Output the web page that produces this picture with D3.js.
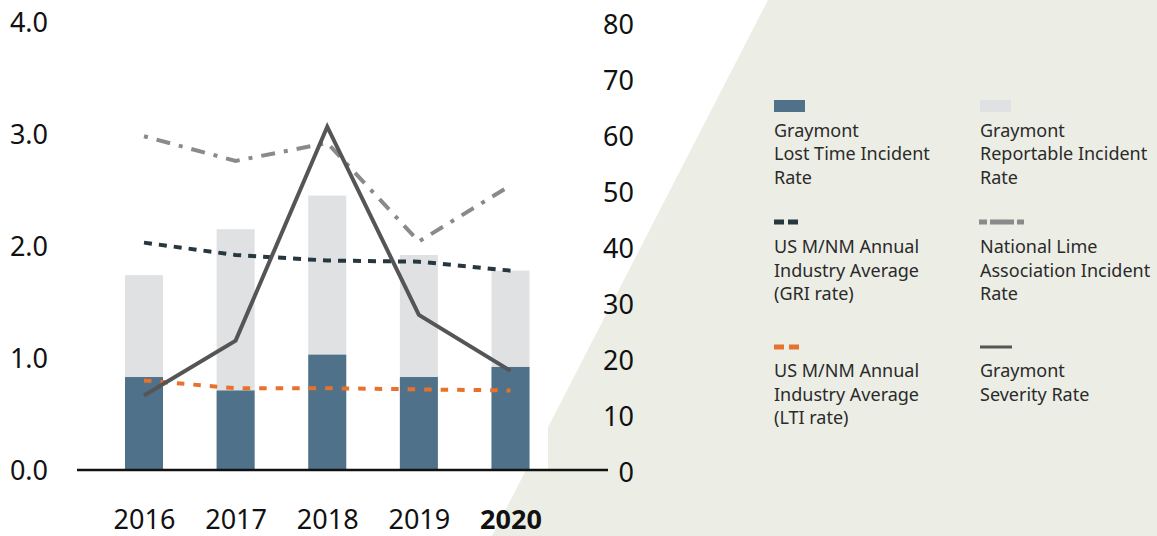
<!DOCTYPE html>
<html>
<head>
<meta charset="utf-8">
<script src="https://cdn.jsdelivr.net/npm/d3@7"></script>
<style>
body { margin: 0; background: #fff; }
svg { display: block; font-family: "Noto Sans", sans-serif; }
</style>
</head>
<body>
<svg id="chart" width="1157" height="536"></svg>
<script>
// values
var years = ["2016", "2017", "2018", "2019", "2020"];
var ltiRate = [0.83, 0.71, 1.03, 0.83, 0.92];          // Graymont Lost Time Incident Rate
var reportableRate = [1.74, 2.15, 2.45, 1.92, 1.78];   // Graymont Reportable Incident Rate
var griAverage = [2.03, 1.92, 1.87, 1.86, 1.78];       // US M/NM avg (GRI rate)
var ltiAverage = [0.80, 0.73, 0.73, 0.72, 0.71];       // US M/NM avg (LTI rate)
var nlaRate = [2.98, 2.76, 2.92, 2.04, 2.54];          // National Lime Association
var severityRate = [13.3, 23.1, 61.3, 27.7, 17.7];     // right axis
var leftTicks = [0, 1, 2, 3, 4];
var rightTicks = [0, 10, 20, 30, 40, 50, 60, 70, 80];
var legendLabels = [
    ["Graymont", "Lost Time Incident", "Rate"],
    ["Graymont", "Reportable Incident", "Rate"],
    ["US M/NM Annual", "Industry Average", "(GRI rate)"],
    ["National Lime", "Association Incident", "Rate"],
    ["US M/NM Annual", "Industry Average", "(LTI rate)"],
    ["Graymont", "Severity Rate"]
];

var svg = d3.select("#chart");
var W = 1157, H = 536;

// backdrop: angled panel, white plot area over it
svg.append("polygon")
    .attr("points", [[768, 0], [W, 0], [W, H], [492, H]].join(" "))
    .attr("fill", "#eceee5");
svg.append("rect")
    .attr("x", 0).attr("y", 0)
    .attr("width", 548).attr("height", 470)
    .attr("fill", "#fff");

var x = d3.scalePoint().domain(years).range([144, 510.5]);
var yL = d3.scaleLinear().domain([0, 4]).range([470, 22]);
var yR = d3.scaleLinear().domain([0, 80]).range([470, 22]);
var barW = 38;

var rows = years.map(function (y, i) {
    return {
        year: y, lti: ltiRate[i], rep: reportableRate[i], gri: griAverage[i],
        ltiAvg: ltiAverage[i], nla: nlaRate[i], sev: severityRate[i]
    };
});

// bars
svg.append("g").selectAll("rect").data(rows).enter().append("rect")
    .attr("x", function (d) { return x(d.year) - barW / 2; })
    .attr("y", function (d) { return yL(d.rep); })
    .attr("width", barW)
    .attr("height", function (d) { return yL(0) - yL(d.rep); })
    .attr("fill", "#e0e1e3");
svg.append("g").selectAll("rect").data(rows).enter().append("rect")
    .attr("x", function (d) { return x(d.year) - barW / 2; })
    .attr("y", function (d) { return yL(d.lti); })
    .attr("width", barW)
    .attr("height", function (d) { return yL(0) - yL(d.lti); })
    .attr("fill", "#4f7189");

function drawLine(key, scale, color, dash) {
    var line = d3.line()
        .x(function (d) { return x(d.year); })
        .y(function (d) { return scale(d[key]); });
    return svg.append("path").datum(rows)
        .attr("d", line)
        .attr("fill", "none")
        .attr("stroke", color)
        .attr("stroke-width", 4)
        .attr("stroke-dasharray", dash);
}

drawLine("ltiAvg", yL, "#e8722c", "7.5,9");
drawLine("gri", yL, "#263740", "8,7");
drawLine("nla", yL, "#8a8a8a", "4,9,14,9");
drawLine("sev", yR, "#555555", null).attr("stroke-linejoin", "miter");

// baseline
svg.append("line")
    .attr("x1", 77).attr("x2", 608)
    .attr("y1", 470).attr("y2", 470)
    .attr("stroke", "#111").attr("stroke-width", 2.5);

// axes (labels only)
function styleAxis(g) {
    g.select(".domain").remove();
    g.selectAll("text").attr("font-size", 27).attr("fill", "#111")
        .attr("font-family", "'Noto Sans', sans-serif");
}
svg.append("g").attr("transform", "translate(48,1)")
    .call(d3.axisLeft(yL).tickValues(leftTicks).tickFormat(d3.format(".1f")).tickSize(0).tickPadding(0))
    .call(styleAxis);
svg.append("g").attr("transform", "translate(634,2.5)")
    .call(d3.axisLeft(yR).tickValues(rightTicks).tickSize(0).tickPadding(0))
    .call(styleAxis);
svg.append("g").attr("transform", "translate(0,510)")
    .call(d3.axisBottom(x).tickSize(0).tickPadding(0))
    .call(styleAxis)
    .selectAll("text")
    .attr("font-weight", function (d) { return d === "2020" ? "bold" : "normal"; });

// legend
var colX = [774, 980];
var rowY = [106, 222, 347];
var textY = [136.5, 253, 377];
var lineH = 23.5;

var lg = svg.append("g");
function swatch(i) {
    var cx = colX[i % 2], cy = rowY[Math.floor(i / 2)];
    if (i === 0 || i === 1) {
        lg.append("rect").attr("x", cx).attr("y", cy - 6).attr("width", 31).attr("height", 12)
            .attr("fill", i === 0 ? "#4f7189" : "#e0e1e3");
    } else if (i === 2) {
        lg.append("line").attr("x1", cx).attr("x2", cx + 24).attr("y1", cy).attr("y2", cy)
            .attr("stroke", "#263740").attr("stroke-width", 5).attr("stroke-dasharray", "10,4");
    } else if (i === 3) {
        lg.append("line").attr("x1", cx - 1).attr("x2", cx + 44).attr("y1", cy).attr("y2", cy)
            .attr("stroke", "#8a8a8a").attr("stroke-width", 5).attr("stroke-dasharray", "8,3,24,3,7");
    } else if (i === 4) {
        lg.append("line").attr("x1", cx).attr("x2", cx + 25).attr("y1", cy).attr("y2", cy)
            .attr("stroke", "#e8722c").attr("stroke-width", 5).attr("stroke-dasharray", "10,5");
    } else {
        lg.append("line").attr("x1", cx).attr("x2", cx + 32).attr("y1", cy).attr("y2", cy)
            .attr("stroke", "#555555").attr("stroke-width", 3);
    }
}
legendLabels.forEach(function (lines, i) {
    swatch(i);
    var t = lg.append("text")
        .attr("x", colX[i % 2])
        .attr("y", textY[Math.floor(i / 2)])
        .attr("font-size", 18)
        .attr("fill", "#2a2a2a");
    lines.forEach(function (s, k) {
        t.append("tspan").attr("x", colX[i % 2]).attr("dy", k === 0 ? 0 : lineH).text(s);
    });
});
</script>
</body>
</html>
